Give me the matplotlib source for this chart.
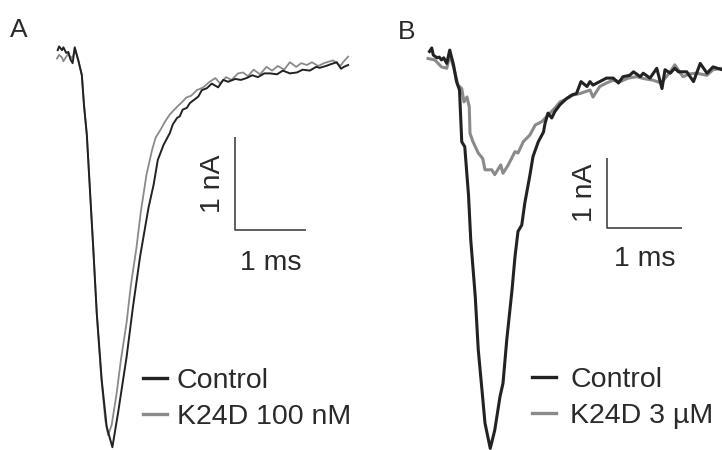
import matplotlib
matplotlib.use("Agg")
import matplotlib.pyplot as plt

plt.rcParams['font.family'] = ['Liberation Sans', 'DejaVu Sans']

# panel A: time (ms) / current (nA)
a_ctrl_t = [0.01, 0.03, 0.07, 0.09, 0.13, 0.16, 0.19, 0.22, 0.25, 0.30, 0.35, 0.38, 0.42, 0.46, 0.51,
            0.56, 0.63, 0.70, 0.78, 0.86, 0.98, 1.07, 1.17, 1.29, 1.36, 1.42, 1.50, 1.59, 1.63, 1.69,
            1.73, 1.77, 1.83, 1.87, 1.92, 1.99, 2.04, 2.11, 2.18, 2.27, 2.34, 2.41, 2.51, 2.59, 2.67,
            2.75, 2.83, 2.92, 3.00, 3.10, 3.18, 3.28, 3.38, 3.46, 3.56, 3.65, 3.70, 3.79, 3.86, 3.94,
            4.00, 4.04, 4.10]
a_ctrl_i = [0.02, 0.06, 0.02, 0.05, -0.01, 0.00, -0.08, -0.12, 0.05, -0.09, -0.25, -0.57, -0.89, -1.43, -2.10,
            -2.81, -3.53, -4.03, -4.25, -3.88, -3.28, -2.74, -2.20, -1.67, -1.43, -1.16, -1.00, -0.87, -0.78, -0.71,
            -0.69, -0.62, -0.60, -0.55, -0.52, -0.48, -0.41, -0.39, -0.34, -0.38, -0.30, -0.32, -0.29, -0.30, -0.28,
            -0.25, -0.27, -0.23, -0.23, -0.24, -0.20, -0.23, -0.22, -0.19, -0.20, -0.16, -0.17, -0.15, -0.13, -0.11,
            -0.18, -0.16, -0.14]

a_drug_t = [0.00, 0.03, 0.07, 0.09, 0.13, 0.16, 0.19, 0.23, 0.25, 0.30, 0.35, 0.38, 0.42, 0.46, 0.51,
            0.56, 0.62, 0.68, 0.72, 0.77, 0.84, 0.90, 0.98, 1.04, 1.12, 1.18, 1.26, 1.34, 1.39, 1.47,
            1.52, 1.59, 1.69, 1.76, 1.82, 1.89, 1.97, 2.06, 2.15, 2.23, 2.30, 2.38, 2.46, 2.55, 2.62,
            2.69, 2.77, 2.86, 2.95, 3.03, 3.11, 3.20, 3.28, 3.37, 3.44, 3.52, 3.59, 3.68, 3.76, 3.89,
            3.99, 4.04, 4.10]
a_drug_i = [-0.07, -0.03, -0.06, -0.10, -0.05, -0.02, -0.07, -0.04, 0.04, -0.09, -0.25, -0.57, -0.89, -1.43, -2.10,
            -2.81, -3.47, -3.96, -4.12, -4.01, -3.67, -3.31, -2.91, -2.51, -2.10, -1.72, -1.32, -1.05, -0.92, -0.82,
            -0.75, -0.67, -0.59, -0.54, -0.49, -0.47, -0.41, -0.38, -0.32, -0.28, -0.34, -0.27, -0.30, -0.23, -0.22,
            -0.26, -0.19, -0.24, -0.16, -0.20, -0.15, -0.19, -0.11, -0.16, -0.12, -0.14, -0.11, -0.15, -0.12, -0.09,
            -0.15, -0.10, -0.05]

# panel B
b_ctrl_t = [0.02, 0.05, 0.07, 0.12, 0.15, 0.18, 0.21, 0.25, 0.29, 0.34, 0.38, 0.42, 0.45, 0.49, 0.54,
            0.57, 0.63, 0.67, 0.72, 0.76, 0.83, 0.89, 0.96, 1.00, 1.05, 1.12, 1.16, 1.20, 1.25, 1.29,
            1.36, 1.40, 1.47, 1.54, 1.56, 1.60, 1.65, 1.69, 1.76, 1.85, 1.92, 1.98, 2.04, 2.12, 2.16,
            2.20, 2.29, 2.38, 2.47, 2.54, 2.60, 2.69, 2.74, 2.83, 2.87, 2.96, 3.05, 3.12, 3.16, 3.23,
            3.29, 3.34, 3.45, 3.54, 3.63, 3.72, 3.80, 3.92]
b_ctrl_i = [0.05, 0.10, 0.00, -0.04, -0.03, -0.07, -0.04, -0.12, 0.07, -0.14, -0.38, -0.50, -1.24, -1.31, -2.00,
            -2.64, -3.45, -4.21, -4.79, -5.26, -5.62, -5.36, -4.88, -4.69, -4.07, -3.36, -2.88, -2.52, -2.43, -2.12,
            -1.71, -1.45, -1.24, -1.10, -0.98, -0.83, -0.90, -0.81, -0.71, -0.62, -0.57, -0.55, -0.38, -0.45, -0.38,
            -0.43, -0.38, -0.33, -0.33, -0.40, -0.31, -0.29, -0.24, -0.31, -0.26, -0.33, -0.19, -0.48, -0.21, -0.26,
            -0.19, -0.24, -0.24, -0.38, -0.12, -0.26, -0.17, -0.21]

b_drug_t = [0.00, 0.09, 0.18, 0.25, 0.29, 0.34, 0.40, 0.45, 0.48, 0.52, 0.55, 0.56, 0.60, 0.67, 0.73,
            0.76, 0.85, 0.89, 0.97, 1.00, 1.07, 1.16, 1.20, 1.27, 1.36, 1.43, 1.52, 1.60, 1.69, 1.76,
            1.84, 1.94, 2.03, 2.16, 2.20, 2.29, 2.38, 2.47, 2.56, 2.67, 2.78, 2.89, 3.00, 3.11, 3.23,
            3.29, 3.40, 3.49, 3.58, 3.72, 3.80, 3.92]
b_drug_i = [-0.05, -0.07, -0.17, -0.19, 0.00, -0.17, -0.43, -0.48, -0.67, -0.60, -0.74, -1.12, -1.24, -1.40, -1.48,
            -1.64, -1.64, -1.71, -1.57, -1.69, -1.57, -1.38, -1.40, -1.24, -1.14, -1.00, -0.95, -0.86, -0.76, -0.67,
            -0.63, -0.57, -0.55, -0.50, -0.60, -0.45, -0.40, -0.36, -0.38, -0.33, -0.31, -0.34, -0.36, -0.40, -0.24,
            -0.14, -0.31, -0.27, -0.26, -0.29, -0.21, -0.19]

a_labels = ["Control", "K24D 100 nM"]
b_labels = ["Control", "K24D 3 \u00b5M"]

dark = "#222222"
grey = "#8a8a8a"
txt = "#2a2a2a"
fs = 20.5

fig = plt.figure(figsize=(7.22, 4.5), dpi=100)

# each panel fills half the figure, limits chosen so the scale bars come out right
axA = fig.add_axes([0, 0, 0.5, 1])
axA.set_xlim(-57 / 71, (361 - 57) / 71)
axA.set_ylim((52 - 450) / 93, 52 / 93)
axA.axis("off")

axB = fig.add_axes([0.5, 0, 0.5, 1])
axB.set_xlim((361 - 428) / 75, (722 - 428) / 75)
axB.set_ylim((55 - 450) / 70, 55 / 70)
axB.axis("off")

axA.plot(a_drug_t, a_drug_i, color=grey, lw=1.3, label=a_labels[1], zorder=2)
axA.plot(a_ctrl_t, a_ctrl_i, color=dark, lw=1.4, label=a_labels[0], zorder=3)

axB.plot(b_drug_t, b_drug_i, color=grey, lw=2.2, label=b_labels[1], zorder=2)
axB.plot(b_ctrl_t, b_ctrl_i, color=dark, lw=2.2, label=b_labels[0], zorder=3)


def scalebar(ax, x0, y0, dx_lab, dy_lab):
    # 1 ms x 1 nA
    ax.plot([x0, x0, x0 + 1], [y0 + 1, y0, y0], color="#333333", lw=1.1, solid_capstyle="butt")
    ax.text(x0 - dx_lab, y0 + 0.5, "1 nA", rotation=90, ha="center", va="center", fontsize=fs, color=txt)
    ax.text(x0 + 0.5, y0 - dy_lab, "1 ms", ha="center", va="center", fontsize=fs, color=txt)


scalebar(axA, (235 - 57) / 71, (52 - 230) / 93, 0.31, 0.36)
scalebar(axB, (607 - 428) / 75, (55 - 228) / 70, 0.29, 0.45)

for ax, pos, pad in [(axA, (143 / 722, 1 - 368 / 450), 0.35), (axB, (532 / 722, 1 - 367 / 450), 0.5)]:
    h, l = ax.get_legend_handles_labels()
    leg = ax.legend(h[::-1], l[::-1], loc="upper left", bbox_to_anchor=pos, bbox_transform=fig.transFigure,
                    frameon=False, fontsize=fs, handlelength=0.84, handletextpad=pad, labelspacing=0.35,
                    borderpad=0, borderaxespad=0)
    for t in leg.get_texts():
        t.set_color(txt)
    for ln in leg.get_lines():
        ln.set_linewidth(2.4)

fig.text(10 / 722, 1 - 37 / 450, "A", fontsize=19, color=txt)
fig.text(398 / 722, 1 - 39 / 450, "B", fontsize=19, color=txt)

fig.savefig("out.png", dpi=100)
